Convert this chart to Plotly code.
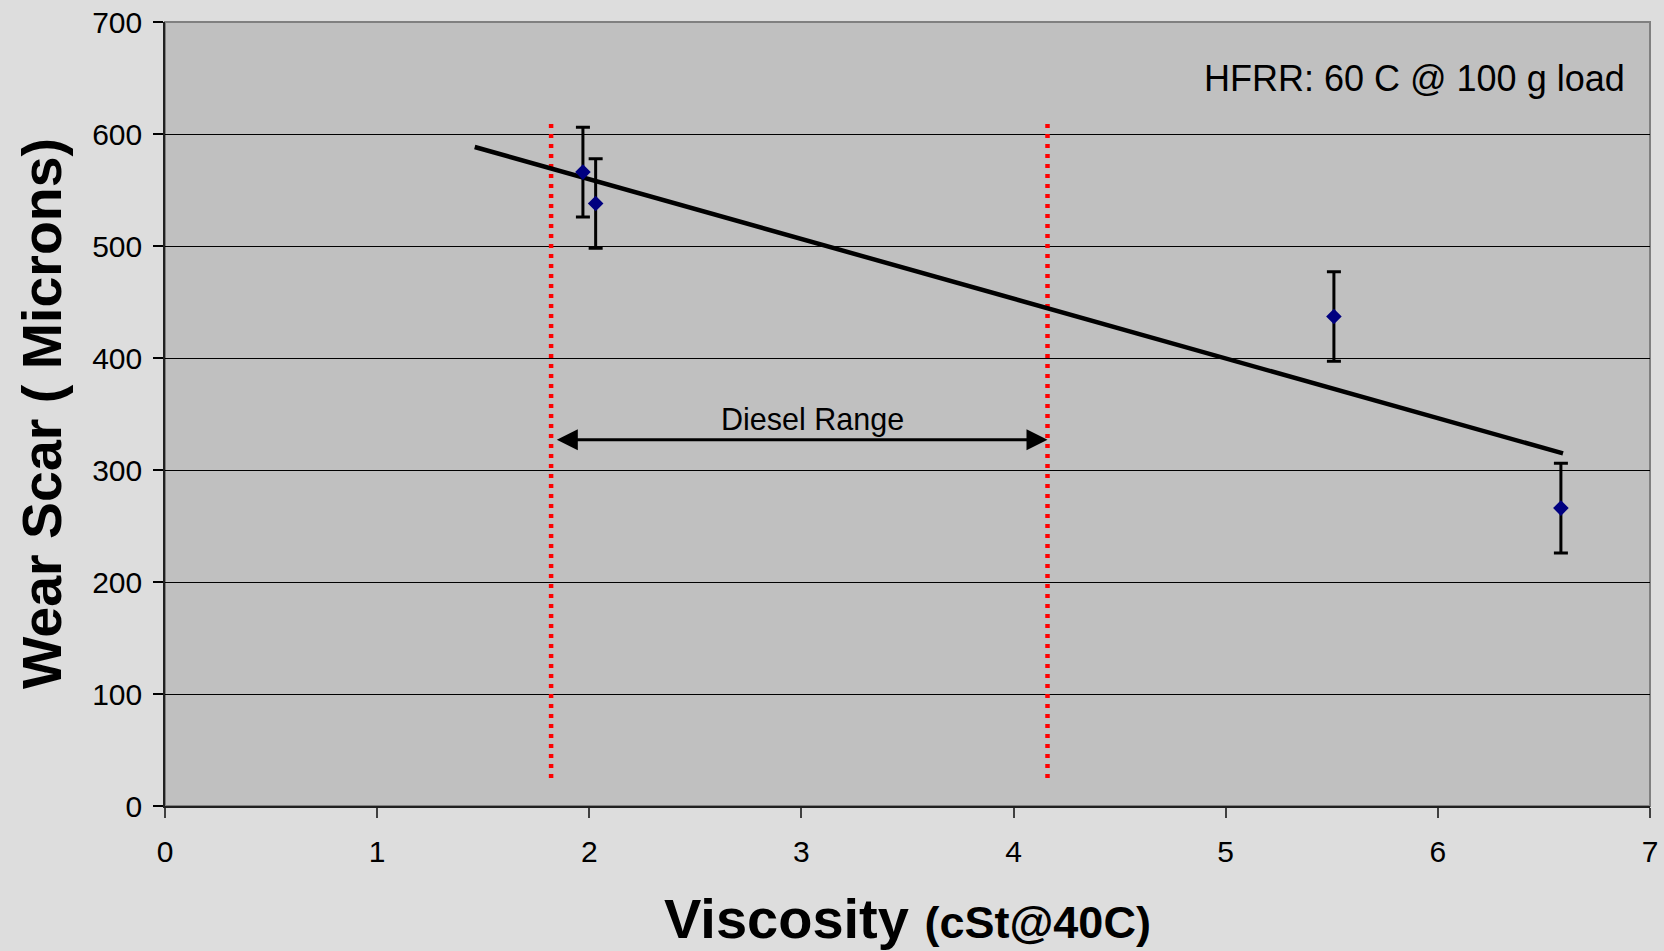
import numpy as np
import plotly.graph_objects as go

# ---- data ----
viscosity = [1.97, 2.03, 5.51, 6.58]
wear_scar = [566, 538, 437, 266]
wear_err = [40, 40, 40, 40]
trend_x_range = [1.46, 6.59]
diesel_range = [1.82, 4.16]
diesel_line_y = [25, 612]
arrow_y = 327
x_ticks = [0, 1, 2, 3, 4, 5, 6, 7]
y_ticks = [0, 100, 200, 300, 400, 500, 600, 700]

FONT = "Liberation Sans, Arial, sans-serif"

# linear trend line fitted to the data
slope, intercept = np.polyfit(viscosity, wear_scar, 1)
trend_x = np.array(trend_x_range)
trend_y = slope * trend_x + intercept

fig = go.Figure()

# diesel range boundaries
for xv in diesel_range:
    fig.add_trace(go.Scatter(
        x=[xv, xv], y=diesel_line_y, mode="lines",
        line=dict(color="#FF0000", width=4.5, dash="4px,6px"),
        showlegend=False, hoverinfo="skip"))

# trend line
fig.add_trace(go.Scatter(
    x=trend_x, y=trend_y, mode="lines",
    line=dict(color="black", width=4.5),
    showlegend=False, hoverinfo="skip"))

# data points with error bars
fig.add_trace(go.Scatter(
    x=viscosity, y=wear_scar, mode="markers",
    marker=dict(symbol="diamond", size=12, color="#000080"),
    error_y=dict(type="data", array=wear_err, visible=True,
                 color="black", thickness=3, width=7),
    showlegend=False))

# double-headed arrow for diesel range
fig.add_annotation(
    x=diesel_range[1], y=arrow_y, ax=diesel_range[0] + 0.02, ay=arrow_y,
    xref="x", yref="y", axref="x", ayref="y",
    text="", showarrow=True, arrowhead=2, startarrowhead=2,
    arrowside="end+start", arrowsize=1.4, startarrowsize=1.4,
    arrowwidth=3, arrowcolor="black")
fig.add_annotation(
    x=3.05, y=arrow_y + 1, xref="x", yref="y",
    text="Diesel Range", showarrow=False, yanchor="bottom",
    font=dict(family=FONT, size=30.5, color="black"))

# condition label
fig.add_annotation(
    x=6.89, y=649.6, xref="x", yref="y", xanchor="right", yanchor="middle",
    text="HFRR: 60 C @ 100 g load", showarrow=False,
    font=dict(family=FONT, size=36, color="black"))

# axis titles
fig.add_annotation(
    x=0.5, y=-0.1432, xref="paper", yref="paper", xanchor="center", yanchor="middle",
    text="<b>Viscosity <span style='font-size:45px'>(cSt@40C)</span></b>",
    showarrow=False, font=dict(family=FONT, size=56, color="black"))
fig.add_annotation(
    x=-0.0828, y=0.5, xref="paper", yref="paper", xanchor="center", yanchor="middle",
    text="<b>Wear Scar ( Microns)</b>", textangle=-90,
    showarrow=False, font=dict(family=FONT, size=55.5, color="black"))

fig.update_layout(
    width=1664, height=951, autosize=False,
    margin=dict(l=165, r=14, t=22, b=145, pad=0, autoexpand=False),
    paper_bgcolor="#DDDDDD", plot_bgcolor="#C0C0C0",
    font=dict(family=FONT, color="black"),
    showlegend=False,
)
fig.update_xaxes(
    range=[0, 7], tickvals=x_ticks, ticktext=[str(v) for v in x_ticks],
    showgrid=False, zeroline=False, automargin=False,
    showline=True, linecolor="#202020", linewidth=1.5,
    ticks="outside", ticklen=10, tickcolor="#404040", tickwidth=1.5,
    ticklabelstandoff=8,
    tickfont=dict(family=FONT, size=30, color="black"),
    mirror=False,
)
fig.update_yaxes(
    range=[0, 700], tickvals=y_ticks, ticktext=[str(v) for v in y_ticks],
    showgrid=True, gridcolor="black", gridwidth=1, zeroline=False, automargin=False,
    showline=True, linecolor="#202020", linewidth=1.5,
    ticks="outside", ticklen=10, tickcolor="black", tickwidth=1.5,
    ticklabelstandoff=5,
    tickfont=dict(family=FONT, size=30, color="black"),
)
# plot-area border (top/right, grey)
fig.add_shape(type="rect", xref="paper", yref="paper", x0=0, y0=0, x1=1, y1=1,
              line=dict(color="#808080", width=2), layer="below")

fig.write_html("out.html")
